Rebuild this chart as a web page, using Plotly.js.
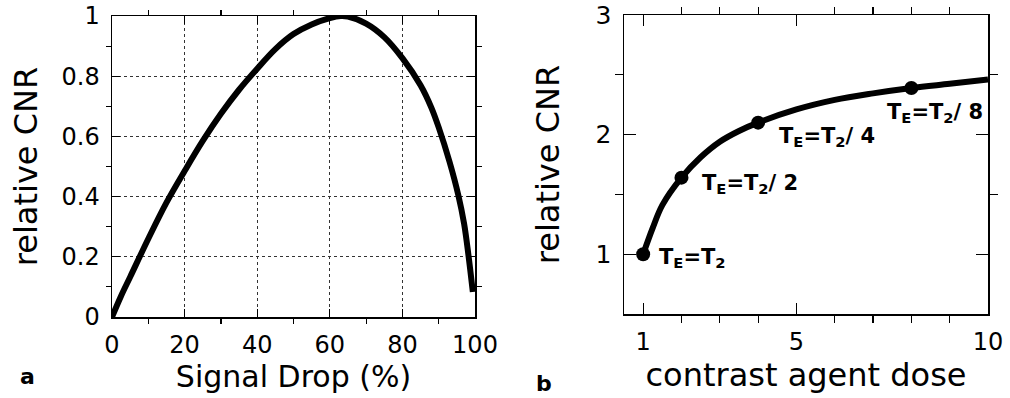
<!DOCTYPE html>
<html>
<head>
<meta charset="utf-8">
<script src="https://cdn.plot.ly/plotly-3.0.1.min.js"></script>
<style>html,body{margin:0;padding:0;background:#fff}#chart{width:1010px;height:398px}</style>
</head>
<body>
<div id="chart"></div>
<script>
// Panel a: relative CNR vs signal drop (%)
const dropX = [0, 2.5, 5, 10, 15, 20, 25, 30, 35, 40, 45, 50, 55, 60, 63, 65, 70, 75, 80, 85, 88, 90, 93, 95.4, 97, 98.2, 99.4];
const dropCNR = [0, 0.07, 0.133, 0.26, 0.38, 0.485, 0.585, 0.675, 0.755, 0.825, 0.89, 0.94, 0.972, 0.993, 1.0, 0.998, 0.975, 0.93, 0.86, 0.77, 0.695, 0.63, 0.515, 0.405, 0.31, 0.205, 0.083];
const dropTickVals = [0, 20, 40, 60, 80, 100];
const dropTickText = ["0", "20", "40", "60", "80", "100"];
const cnrTickVals = [0, 0.2, 0.4, 0.6, 0.8, 1];
const cnrTickText = ["0", "0.2", "0.4", "0.6", "0.8", "1"];

// Panel b: relative CNR vs contrast agent dose
const doseX = [1, 1.25, 1.5, 2, 2.5, 3, 3.5, 4, 5, 6, 7, 8, 9, 10];
const doseCNR = [1.0, 1.22, 1.41, 1.64, 1.81, 1.94, 2.03, 2.10, 2.21, 2.29, 2.345, 2.39, 2.425, 2.46];
const doseTickVals = [1, 5, 10];
const doseTickText = ["1", "5", "10"];
const cnr2TickVals = [1, 2, 3];
const cnr2TickText = ["1", "2", "3"];

// Marked echo times
const markDose = [1, 2, 4, 8];
const markCNR = [1.0, 1.64, 2.10, 2.39];
const markLabels = [
  "T<sub>E</sub>=T<sub>2</sub>",
  "T<sub>E</sub>=T<sub>2</sub>/ 2",
  "T<sub>E</sub>=T<sub>2</sub>/ 4",
  "T<sub>E</sub>=T<sub>2</sub>/ 8"
];
const panelLabels = ["a", "b"];

const FONT = "DejaVu Sans, sans-serif";
const labelOffsets = [[14, -4], [19, -6], [19, -14], [-26, -25]];
const panelPos = [[18 / 1010, (398 - 391) / 398], [544 / 1010, (398 - 398) / 398]];

const traces = [
  {x: dropX, y: dropCNR, xaxis: 'x', yaxis: 'y', mode: 'lines',
   line: {color: '#000', width: 6, shape: 'spline', smoothing: 1}, hoverinfo: 'skip'},
  {x: doseX, y: doseCNR, xaxis: 'x2', yaxis: 'y2', mode: 'lines',
   line: {color: '#000', width: 6, shape: 'spline', smoothing: 1}, hoverinfo: 'skip'},
  {x: markDose, y: markCNR, xaxis: 'x2', yaxis: 'y2', mode: 'markers',
   marker: {color: '#000', size: 14}, hoverinfo: 'skip'}
];

const axBase = {
  showline: true, linecolor: '#000', linewidth: 1.5, mirror: 'ticks',
  ticks: 'inside', tickcolor: '#000', tickwidth: 1.2, zeroline: false,
  tickfont: {family: FONT, size: 24, color: '#000'}, ticklabelstandoff: 6
};

const annotations = markLabels.map((t, i) => ({
  x: markDose[i], y: markCNR[i], xref: 'x2', yref: 'y2', text: '<b>' + t + '</b>',
  showarrow: false, xanchor: 'left', yanchor: 'middle',
  xshift: labelOffsets[i][0], yshift: labelOffsets[i][1],
  font: {family: FONT, size: 21, color: '#000'}
}));
panelLabels.forEach((t, i) => annotations.push({
  x: panelPos[i][0], y: panelPos[i][1], xref: 'paper', yref: 'paper',
  text: '<b>' + t + '</b>', showarrow: false,
  font: {family: FONT, size: 22, color: '#000'}
}));

const layout = {
  width: 1010, height: 398, margin: {l: 0, r: 0, t: 0, b: 0},
  paper_bgcolor: '#fff', plot_bgcolor: '#fff', showlegend: false,
  font: {family: FONT, color: '#000'},
  xaxis: Object.assign({}, axBase, {
    domain: [112 / 1010, 475 / 1010], range: [0, 100], tickvals: dropTickVals, ticktext: dropTickText, ticklen: 8,
    showgrid: true, gridcolor: '#333', griddash: 'dot', gridwidth: 1,
    minor: {tickvals: [10, 30, 50, 70, 90], ticklen: 5, tickcolor: '#000', showgrid: false},
    title: {text: 'Signal Drop (%)', font: {family: FONT, size: 30, color: '#000'}, standoff: 0}
  }),
  yaxis: Object.assign({}, axBase, {
    domain: [(398 - 317) / 398, (398 - 16) / 398], range: [0, 1], tickvals: cnrTickVals, ticktext: cnrTickText, ticklen: 8,
    showgrid: true, gridcolor: '#333', griddash: 'dot', gridwidth: 1,
    minor: {tickvals: [0.1, 0.3, 0.5, 0.7, 0.9], ticklen: 5, tickcolor: '#000', showgrid: false},
    title: {text: 'relative CNR', font: {family: FONT, size: 32, color: '#000'}, standoff: 14}
  }),
  xaxis2: Object.assign({}, axBase, {
    domain: [624 / 1010, 988 / 1010], range: [0.5, 10], tickvals: doseTickVals, ticktext: doseTickText, ticklen: 11,
    showgrid: false, anchor: 'y2',
    minor: {tickvals: [2, 3, 4, 6, 7, 8, 9], ticklen: 7, tickcolor: '#000', showgrid: false},
    title: {text: 'contrast agent dose', font: {family: FONT, size: 32, color: '#000'}, standoff: 0}
  }),
  yaxis2: Object.assign({}, axBase, {
    domain: [(398 - 314) / 398, (398 - 15) / 398], range: [0.5, 3], tickvals: cnr2TickVals, ticktext: cnr2TickText, ticklen: 12,
    showgrid: false, anchor: 'x2',
    tickfont: {family: FONT, size: 25, color: '#000'},
    minor: {tickvals: [1.5, 2.5], ticklen: 8, tickcolor: '#000', showgrid: false},
    title: {text: 'relative CNR', font: {family: FONT, size: 32, color: '#000'}, standoff: 26}
  }),
  annotations: annotations
};

Plotly.newPlot('chart', traces, layout, {staticPlot: true, displayModeBar: false});
</script>
</body>
</html>
